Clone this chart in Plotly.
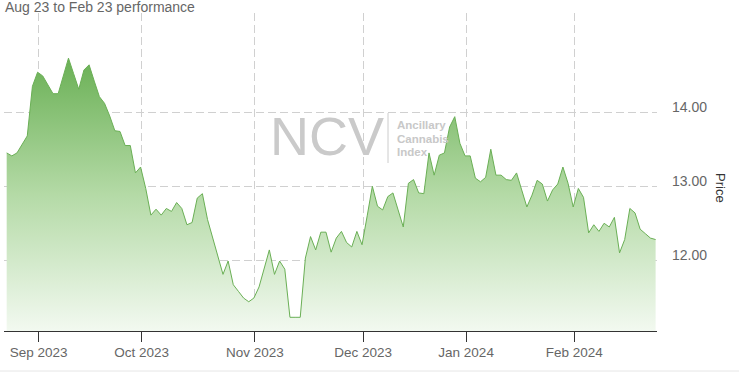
import pandas as pd
import plotly.graph_objects as go

# ---- data ----
start_date = "2023-08-23"
end_date = "2024-02-23"
market_holidays = ["2023-09-04", "2023-11-23", "2023-12-25",
                   "2024-01-01", "2024-01-15", "2024-02-19"]
prices = [
    13.45, 13.41, 13.45, 13.57, 13.68, 14.35, 14.54, 14.49, 14.37, 14.25,
    14.25, 14.49, 14.73, 14.52, 14.31, 14.57, 14.64, 14.42, 14.21, 14.12,
    13.95, 13.75, 13.74, 13.55, 13.55, 13.18, 13.26, 12.97, 12.61, 12.69,
    12.61, 12.70, 12.66, 12.78, 12.70, 12.48, 12.51, 12.84, 12.90, 12.55,
    12.30, 12.05, 11.81, 11.99, 11.67, 11.58, 11.49, 11.44, 11.49, 11.64,
    11.89, 12.14, 11.81, 11.99, 11.88, 11.23, 11.23, 11.23, 12.03, 12.32,
    12.14, 12.38, 12.38, 12.11, 12.30, 12.39, 12.24, 12.18, 12.39, 12.21,
    12.60, 13.00, 12.73, 12.68, 12.86, 12.91, 12.68, 12.45, 13.04, 13.09,
    12.91, 12.90, 13.45, 13.15, 13.42, 13.45, 13.80, 13.94, 13.58, 13.41,
    13.41, 13.11, 13.06, 13.12, 13.50, 13.15, 13.15, 13.09, 13.08, 13.18,
    12.95, 12.72, 12.88, 13.08, 13.03, 12.80, 12.95, 13.03, 13.26, 13.04,
    12.72, 12.97, 12.85, 12.37, 12.48, 12.39, 12.50, 12.45, 12.58, 12.10,
    12.28, 12.70, 12.64, 12.42, 12.36, 12.30, 12.28,
]
y_ticks = [12, 13, 14]
title_text = "Aug 23 to Feb 23 performance"
y_title = "Price"
watermark_big = "NCV"
watermark_small = ["Ancillary", "Cannabis", "Index"]

dates = pd.bdate_range(start_date, end_date, freq="C", holidays=market_holidays) + pd.Timedelta(hours=19)

W, H = 739, 373
L, R, T, B = 4, 82, 13, 42
PW, PH = W - L - R, H - T - B


def px(x):
    return (x - L) / PW


def py(y):
    return (H - B - y) / PH


fig = go.Figure()
fig.add_trace(go.Scatter(
    x=dates, y=prices, mode="lines",
    line=dict(color="#6aaf55", width=1),
    fill="tozeroy",
    fillgradient=dict(type="vertical", start=11.05, stop=14.73,
                      colorscale=[[0, "rgb(242,249,240)"], [0.5, "rgb(180,218,166)"],
                                  [1, "rgb(106,176,85)"]]),
    hoverinfo="skip", showlegend=False,
))

grid = dict(showgrid=True, gridcolor="#d0d0d0", gridwidth=1, griddash="8px,4px")

fig.update_xaxes(
    type="date",
    range=["2023-08-23 06:30", "2024-02-26 01:30"],
    rangebreaks=[dict(bounds=["sat", "mon"]), dict(values=market_holidays)],
    dtick="M1", tick0="2023-09-01", tickformat="%b %Y",
    ticks="outside", ticklen=10, tickcolor="#333333",
    showline=True, linecolor="#333333", linewidth=1,
    ticklabelstandoff=-1,
    tickfont=dict(family="Arial, Liberation Sans", size=13.5, color="#666666"),
    zeroline=False, **grid,
)
fig.update_yaxes(
    side="right", range=[11.045, 15.34],
    tickvals=y_ticks, tickformat=".2f",
    ticklabelstandoff=14, ticklabelshift=-5,
    tickfont=dict(family="Arial, Liberation Sans", size=14, color="#666666"),
    zeroline=False, showline=False, **grid,
)

ann = [
    dict(text=title_text, x=px(3), y=py(7), xanchor="left", yanchor="middle",
         font=dict(family="Arial, Liberation Sans", size=14, color="#666666")),
    dict(text=y_title, x=px(721), y=py(188), textangle=90, xanchor="center", yanchor="middle",
         font=dict(family="Arial, Liberation Sans", size=13, color="#333333")),
    dict(text=watermark_big, x=px(327), y=py(136), xanchor="center", yanchor="middle",
         font=dict(family="Arial, Liberation Sans", size=54, color="#cacaca")),
]
for i, t in enumerate(watermark_small):
    ann.append(dict(text="<b>" + t + "</b>", x=px(395), y=py(125 + 13.5 * i),
                    xanchor="left", yanchor="middle",
                    font=dict(family="Arial, Liberation Sans", size=11.5, color="#c8c8c8")))
for a in ann:
    a.update(xref="paper", yref="paper", showarrow=False)

shapes = [
    dict(type="line", xref="paper", yref="paper", x0=px(388), x1=px(388), y0=py(113), y1=py(163),
         line=dict(color="#cccccc", width=1)),
    dict(type="line", xref="paper", yref="paper", x0=px(0), x1=px(W), y0=py(371), y1=py(371),
         line=dict(color="#e6e6e6", width=1)),
]

fig.update_layout(
    width=W, height=H, margin=dict(l=L, r=R, t=T, b=B),
    paper_bgcolor="white", plot_bgcolor="white",
    annotations=ann, shapes=shapes,
)
fig.write_html("out.html")
